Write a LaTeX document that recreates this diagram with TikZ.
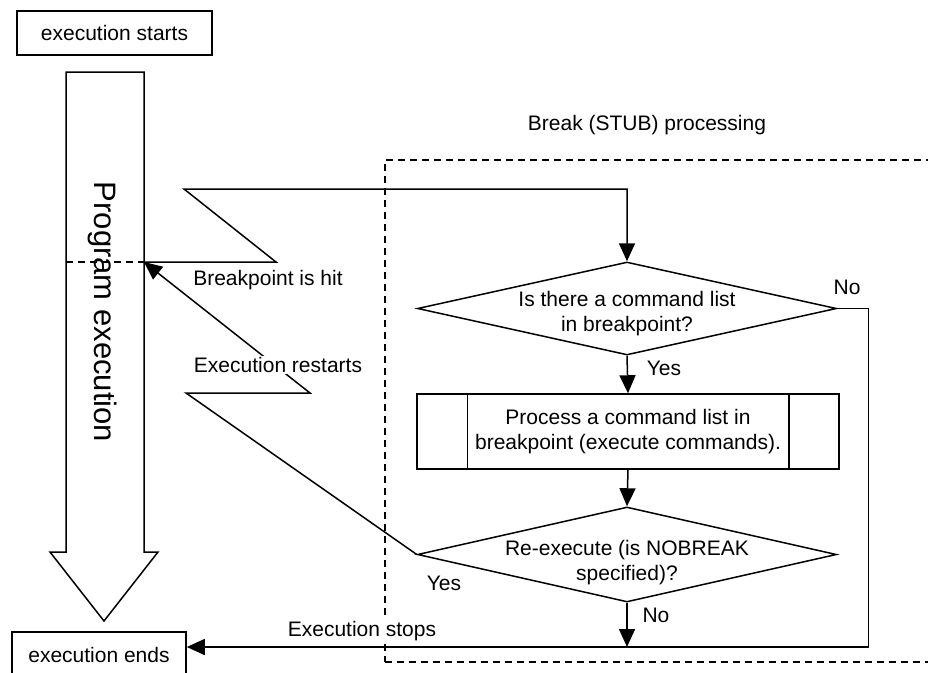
\documentclass[tikz,border=0pt]{standalone}
\usepackage{fontspec}
\setmainfont{Liberation Sans}
\usetikzlibrary{shapes.geometric,arrows.meta,calc}
\begin{document}
\begin{tikzpicture}[x=1pt,y=-1pt,line width=1.5pt,
  every node/.style={font=\fontsize{21}{25}\selectfont},
  box/.style={draw,rectangle,inner sep=0pt},
  dec/.style={draw,diamond,inner sep=0pt,minimum width=419pt},
  txt/.style={align=center,inner sep=0pt},
  lbl/.style={inner sep=1pt},
  dbox/.style={draw,dash pattern=on 7pt off 5pt,inner sep=0pt},
  arr/.style={-{Triangle[length=18pt,width=16pt]}},
  bigarrow/.style={draw,fill=white,line join=miter}]
\useasboundingbox (0,0) rectangle (928,672);
\clip (0,0) rectangle (928,672);

% dashed STUB region
\node[dbox,minimum width=545pt,minimum height=502pt] (stub) at (657.5,411) {};
\node (stubtitle) at (647,125) {Break (STUB) processing};

% big program execution arrow
\draw[bigarrow] (66,72) -- (144,72) -- (144,552) -- (158,552) -- (104,621)
  -- (50,552) -- (66,552) -- cycle;
\node[rotate=-90,font=\fontsize{31}{36}\selectfont] (prog) at (103,312) {Program execution};

% terminal boxes
\node[box,minimum width=195pt,minimum height=44pt] (start) at (114.5,33) {execution starts};
\node[box,minimum width=174pt,minimum height=46pt] (ends) at (99,655) {execution ends};

% flowchart
\node[dec,minimum height=93pt] (d1) at (627,308.5) {};
\node[txt] (t1) at (627,314) {Is there a command list\\in breakpoint?};
\node[box,minimum width=422pt,minimum height=75pt] (proc) at (628,431.5) {};
\node[txt] (t2) at (628,432) {Process a command list in\\breakpoint (execute commands).};
\draw ([xshift=51pt]proc.north west) -- ([xshift=51pt]proc.south west);
\draw ([xshift=-51pt]proc.north east) -- ([xshift=-51pt]proc.south east);
\node[dec,minimum height=95pt] (d2) at (627,554.5) {};
\node[txt] (t3) at (627,563) {Re-execute (is NOBREAK\\specified)?};

% coordinates
\coordinate (bpl) at (66,262);
\coordinate (bp) at (144,262);
\coordinate (z1) at (276,262);
\coordinate (z2) at (184,189);
\coordinate (r1) at (186,393);
\coordinate (r2) at (310,393);
\coordinate (stop) at (627,647);

% connectors
\draw[dash pattern=on 7pt off 5pt] (bpl) -- (bp);
\draw[arr] (bp) -- (z1) -- (z2) -| (d1.north);
\draw[arr] (d1.south) -- (proc.north);
\draw[arr] (proc.south) -- (d2.north);
\draw[arr] (d2.south) -- (stop);
\draw[arr] (d1.east) -- ++(31,0) |- ([yshift=8pt]ends.east);
\draw[arr] (d2.west) -- (r1) -- (r2) -- (bp);

% labels
\node[lbl] (hit) at (268,280) {Breakpoint is hit};
\node[lbl,fill=white] (restart) at (278,365) {Execution restarts};
\node[lbl,fill=white] (stops) at (362,631) {Execution stops};
\node (yes1) at (664,368) {Yes};
\node (no1) at (847,287) {No};
\node (yes2) at (444,583) {Yes};
\node (no2) at (656,615) {No};
\end{tikzpicture}
\end{document}
